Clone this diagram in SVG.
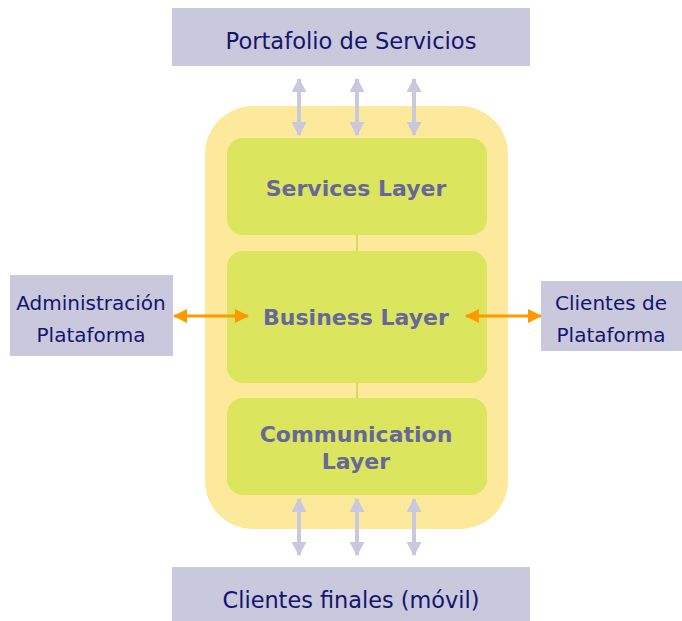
<svg xmlns="http://www.w3.org/2000/svg" width="682" height="621" viewBox="0 0 682 621">
<defs>
<style>
.box{fill:#C9C8DC}
.ext{font-family:"DejaVu Sans",Verdana,sans-serif;fill:#14146E;text-anchor:middle}
.layer{fill:#DBE55D}
.lt{font-family:"DejaVu Sans",Verdana,sans-serif;font-weight:bold;font-size:22px;fill:#68679B;text-anchor:middle}
.ga{stroke:#C9C8DC;stroke-width:4;fill:none;marker-start:url(#gh);marker-end:url(#gh)}
.oa{stroke:#FF9900;stroke-width:3;fill:none;marker-start:url(#oh);marker-end:url(#oh)}
.link{stroke:#C8D64A;stroke-width:1.5}
</style>
<marker id="gh" viewBox="0 0 14 15" refX="13" refY="7.5" markerWidth="14" markerHeight="15" markerUnits="userSpaceOnUse" orient="auto-start-reverse">
<path d="M0,0 L14,7.5 L0,15 Z" fill="#C9C8DC"/>
</marker>
<marker id="oh" viewBox="0 0 14 14" refX="13" refY="7" markerWidth="14" markerHeight="14" markerUnits="userSpaceOnUse" orient="auto-start-reverse">
<path d="M0,0 L14,7 L0,14 Z" fill="#FF9900"/>
</marker>
</defs>
<rect width="682" height="621" fill="#FFFFFF"/>
<g id="platform">
<rect x="205" y="106" width="303" height="423" rx="48" fill="#FDE99B"/>
</g>
<g id="portafolio">
<rect class="box" x="172" y="8" width="358" height="58"/>
<text class="ext" x="351" y="49" font-size="22.6">Portafolio de Servicios</text>
</g>
<g id="services-layer">
<rect class="layer" x="227" y="138" width="260" height="97" rx="16"/>
<text class="lt" x="356" y="196">Services Layer</text>
</g>
<g id="business-layer">
<rect class="layer" x="227" y="251" width="260" height="132" rx="16"/>
<text class="lt" x="356" y="325">Business Layer</text>
</g>
<g id="communication-layer">
<rect class="layer" x="227" y="398" width="260" height="97" rx="16"/>
<text class="lt" x="356" y="442">Communication</text>
<text class="lt" x="356" y="469">Layer</text>
</g>
<g id="admin">
<rect class="box" x="10" y="275" width="163" height="81"/>
<text class="ext" x="91" y="310" font-size="20">Administración</text>
<text class="ext" x="91" y="342" font-size="20">Plataforma</text>
</g>
<g id="clientes-plataforma">
<rect class="box" x="541" y="281" width="141" height="70"/>
<text class="ext" x="611" y="310" font-size="20">Clientes de</text>
<text class="ext" x="611" y="342" font-size="20">Plataforma</text>
</g>
<g id="clientes-finales">
<rect class="box" x="172" y="567" width="358" height="54"/>
<text class="ext" x="351" y="608" font-size="22.4">Clientes finales (móvil)</text>
</g>
<g id="connectors">
<line class="link" x1="357" y1="235" x2="357" y2="251"/>
<line class="link" x1="357" y1="383" x2="357" y2="398"/>
<line class="ga" x1="299" y1="79" x2="299" y2="135"/>
<line class="ga" x1="357" y1="79" x2="357" y2="135"/>
<line class="ga" x1="414" y1="79" x2="414" y2="135"/>
<line class="ga" x1="299" y1="499" x2="299" y2="555"/>
<line class="ga" x1="357" y1="499" x2="357" y2="555"/>
<line class="ga" x1="414" y1="499" x2="414" y2="555"/>
<line class="oa" x1="174" y1="316" x2="248" y2="316"/>
<line class="oa" x1="466" y1="316" x2="541" y2="316"/>
</g>
</svg>
